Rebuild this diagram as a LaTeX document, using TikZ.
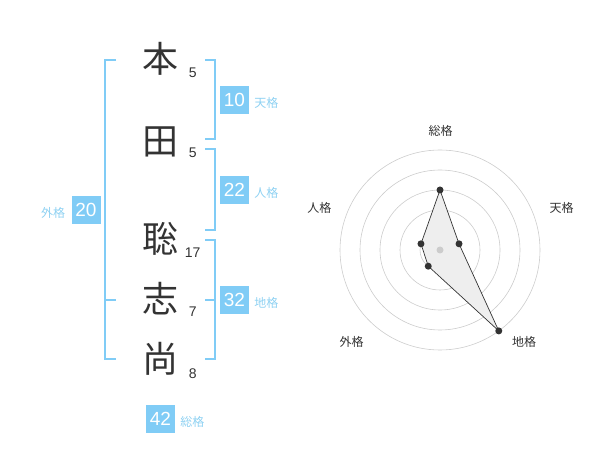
\documentclass[tikz,border=0pt]{standalone}
\usepackage{fontspec}
\setmainfont{Liberation Sans}
\newfontfamily\jfont{Noto Sans CJK JP}
\usetikzlibrary{positioning}
\definecolor{kblue}{HTML}{80CCF6}
\definecolor{klabel}{HTML}{8ED1F2}
\definecolor{kdark}{HTML}{333333}
\definecolor{kring}{HTML}{CCCCCC}
\definecolor{kfill}{HTML}{EEEEEE}
\begin{document}
\begin{tikzpicture}[
    x=1pt, y=-1pt,
    kanji/.style={inner sep=0pt, text height=0.83em, text depth=0.07em, yshift=-9pt, text=kdark, font=\jfont\fontsize{36}{36}\selectfont},
    strokes/.style={inner sep=0pt, text=kdark, font=\fontsize{14}{14}\selectfont},
    scorebox/.style={fill=kblue, text=white, minimum width=29pt, minimum height=28pt, inner sep=0pt, font=\fontsize{19}{19}\selectfont},
    kaku/.style={inner sep=0pt, text=klabel, font=\jfont\fontsize{12}{12}\selectfont},
    bracket/.style={draw=kblue, line width=2pt},
    ring/.style={draw=kring, line width=0.6pt},
    poly/.style={draw=kdark, fill=kfill, line width=0.7pt},
    dot/.style={circle, fill=kdark, inner sep=0pt, minimum size=7pt},
    axislabel/.style={inner sep=0pt, text=kdark, font=\jfont\fontsize{12}{12}\selectfont}
    ]
\useasboundingbox (0,0) rectangle (600,470);

% name
\node[kanji] (k1) at (160,59.7) {本};
\node[kanji] (k2) at (160,141.7) {田};
\node[kanji] (k3) at (160,240) {聡};
\node[kanji] (k4) at (160,300) {志};
\node[kanji] (k5) at (160,360) {尚};

\node[strokes] (s1) at (192.7,72.7) {5};
\node[strokes] (s2) at (192.7,152.7) {5};
\node[strokes] (s3) at (192.7,252.7) {17};
\node[strokes] (s4) at (192.7,311.7) {7};
\node[strokes] (s5) at (192.7,373.3) {8};

% brackets
\draw[bracket] (116,60) -- (105,60) -- (105,359.3) -- (116,359.3);
\draw[bracket] (105,300) -- (116,300);
\draw[bracket] (205,60) -- (215,60) -- (215,139.3) -- (205,139.3);
\draw[bracket] (205,149.3) -- (215,149.3) -- (215,230) -- (205,230);
\draw[bracket] (205,240) -- (215,240) -- (215,359.3) -- (205,359.3);
\draw[bracket] (205,300) -- (215,300);

% scores
\node[scorebox] (ten) at (234.5,100) {10};
\node[kaku, right=5pt of ten, yshift=-3pt] (tenl) {天格};
\node[scorebox] (jin) at (234.5,190) {22};
\node[kaku, right=5pt of jin, yshift=-3pt] (jinl) {人格};
\node[scorebox] (chi) at (234.5,300) {32};
\node[kaku, right=5pt of chi, yshift=-3pt] (chil) {地格};
\node[scorebox] (gai) at (86,210) {20};
\node[kaku, left=6pt of gai, yshift=-3pt] (gail) {外格};
\node[scorebox] (sou) at (160.5,419) {42};
\node[kaku, right=5pt of sou, yshift=-3pt] (soul) {総格};

% radar
\begin{scope}[shift={(440,250)}]
\coordinate (c) at (0,0);
\foreach \r in {20,40,...,100}
    \draw[ring] (c) circle (\r pt);
\coordinate (psou) at (-90:60);
\coordinate (pten) at (-18:20);
\coordinate (pchi) at (54:100);
\coordinate (pgai) at (126:20);
\coordinate (pjin) at (198:20);
\draw[poly] (psou) -- (pten) -- (pchi) -- (pgai) -- (pjin) -- cycle;
\node[circle, fill=kring, inner sep=0pt, minimum size=7pt] (mid) at (c) {};
\foreach \p in {psou,pten,pchi,pgai,pjin}
    \node[dot] (d\p) at (\p) {};
\node[axislabel] (asou) at (0.7,-119.3) {総格};
\node[axislabel] (aten) at (121.7,-41.7) {天格};
\node[axislabel] (achi) at (84,91.7) {地格};
\node[axislabel] (agai) at (-88.3,91.7) {外格};
\node[axislabel] (ajin) at (-120.7,-41.7) {人格};
\end{scope}
\end{tikzpicture}
\end{document}
